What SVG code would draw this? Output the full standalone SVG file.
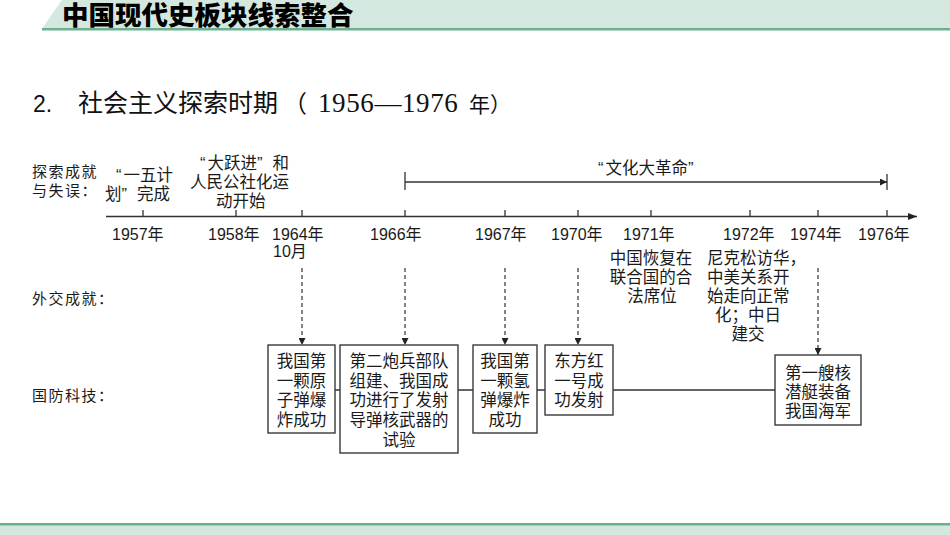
<svg xmlns="http://www.w3.org/2000/svg" width="950" height="535" viewBox="0 0 950 535">
<defs>
<style>
.cjk{font-family:"Liberation Sans","Noto Sans CJK SC",sans-serif;fill:#1a1a1a}
.yr{font-family:"Liberation Sans","Noto Sans CJK SC",sans-serif;font-size:16px;fill:#1a1a1a}
.lbl{font-size:15px;letter-spacing:1.5px}
.ev{font-size:16.5px}
.bx{font-size:16.5px;text-anchor:middle}
.box{fill:#fff;stroke:#3a3a3a;stroke-width:1.4}
.ln{stroke:#333;stroke-width:1.3;fill:none}
.dash{stroke:#333;stroke-width:1.2;stroke-dasharray:4 3;fill:none}
</style>
<marker id="ah" viewBox="0 0 10 10" refX="10" refY="5" markerWidth="7" markerHeight="7" markerUnits="userSpaceOnUse" orient="auto">
<path d="M0,0 L10,5 L0,10 Z" fill="#222"/>
</marker>
<marker id="ah2" viewBox="0 0 10 10" refX="10" refY="5" markerWidth="9" markerHeight="9" markerUnits="userSpaceOnUse" orient="auto">
<path d="M0,1 L10,5 L0,9 Z" fill="#222"/>
</marker>
</defs>
<rect width="950" height="535" fill="#fff"/>
<g id="header">
<polygon points="62,0 950,0 950,28.5 42,28.5" fill="#d5e8e0"/>
<rect x="42" y="28" width="908" height="2.5" fill="#6db08f"/>
<text x="62" y="25" class="cjk" font-size="26.5" font-weight="900" style="fill:#000">中国现代史板块线索整合</text>
</g>
<g id="subtitle">
<text x="33" y="112" font-family="Liberation Sans,sans-serif" font-size="23" fill="#111">2.</text>
<text x="78" y="112" class="cjk" font-size="25" style="fill:#111">社会主义探索时期</text>
<text x="283" y="112" class="cjk" font-size="24" style="fill:#111">（</text>
<text x="318" y="112" font-family="Liberation Serif,serif" font-size="27" letter-spacing="0.6" fill="#111">1956—1976</text>
<text x="469" y="112" class="cjk" font-size="21" style="fill:#111">年）</text>
</g>
<g id="row-labels">
<text x="32" y="177" class="cjk lbl">探索成就</text>
<text x="32" y="196" class="cjk lbl">与失误：</text>
<text x="32" y="304" class="cjk lbl">外交成就：</text>
<text x="32" y="401" class="cjk lbl">国防科技：</text>
</g>
<g id="connectors">
<line x1="106" y1="216.5" x2="917" y2="216.5" class="ln" stroke-width="1.8" marker-end="url(#ah2)"/>
<path class="ln" d="M143,210V216 M236,210V216 M302,210V216 M405,210V216 M505,210V216 M578,210V216 M651,210V216 M750,210V216 M818,210V216 M887,210V216"/>
<line x1="405" y1="182" x2="887" y2="182" class="ln" marker-end="url(#ah)"/>
<path class="ln" d="M405,172V190 M887,174V190"/>
<line x1="302" y1="268" x2="302" y2="345" class="dash" marker-end="url(#ah)"/>
<line x1="405" y1="268" x2="405" y2="345" class="dash" marker-end="url(#ah)"/>
<line x1="505" y1="268" x2="505" y2="345" class="dash" marker-end="url(#ah)"/>
<line x1="578" y1="268" x2="578" y2="345" class="dash" marker-end="url(#ah)"/>
<line x1="818" y1="268" x2="818" y2="355" class="dash" marker-end="url(#ah)"/>
<path class="ln" d="M335,390H340 M458,390H473 M537,390H545 M613,390H775"/>
</g>
<g id="years">
<text x="112" y="240" class="yr">1957年</text>
<text x="208" y="240" class="yr">1958年</text>
<text x="272" y="240" class="yr">1964年</text>
<text x="273" y="257" class="yr">10月</text>
<text x="370" y="240" class="yr">1966年</text>
<text x="475" y="240" class="yr">1967年</text>
<text x="551" y="240" class="yr">1970年</text>
<text x="623" y="240" class="yr">1971年</text>
<text x="723" y="240" class="yr">1972年</text>
<text x="790" y="240" class="yr">1974年</text>
<text x="858" y="240" class="yr">1976年</text>
</g>
<g id="ev-1957" class="cjk ev">
<text x="116" y="181">“<tspan dx="2">一五计</tspan></text>
<text x="105" y="200">划”<tspan dx="10">完成</tspan></text>
</g>
<g id="ev-1958" class="cjk ev">
<text x="200" y="169">“<tspan dx="2">大跃进</tspan>”<tspan dx="10">和</tspan></text>
<text x="190" y="188">人民公社化运</text>
<text x="216" y="207">动开始</text>
</g>
<g id="ev-wenge" class="cjk ev">
<text x="598" y="174">“<tspan dx="2">文化大革命</tspan>”</text>
</g>
<g id="ev-1971" class="cjk ev" text-anchor="middle">
<text x="651" y="264">中国恢复在</text>
<text x="651" y="283">联合国的合</text>
<text x="652" y="302">法席位</text>
</g>
<g id="ev-1972" class="cjk ev">
<text x="707" y="264">尼克松访华，</text>
<text x="707" y="283">中美关系开</text>
<text x="707" y="302">始走向正常</text>
<text x="748" y="321" text-anchor="middle">化；中日</text>
<text x="748" y="340" text-anchor="middle">建交</text>
</g>
<g id="box1">
<rect x="268" y="345" width="67" height="88" class="box"/>
<g class="cjk bx"><text x="301.5" y="367">我国第</text><text x="301.5" y="387">一颗原</text><text x="301.5" y="406">子弹爆</text><text x="301.5" y="426">炸成功</text></g>
</g>
<g id="box2">
<rect x="340" y="345" width="118" height="108" class="box"/>
<g class="cjk bx"><text x="399" y="367">第二炮兵部队</text><text x="399" y="387">组建、我国成</text><text x="399" y="406">功进行了发射</text><text x="399" y="426">导弹核武器的</text><text x="399" y="446">试验</text></g>
</g>
<g id="box3">
<rect x="473" y="345" width="64" height="88" class="box"/>
<g class="cjk bx"><text x="505" y="367">我国第</text><text x="505" y="387">一颗氢</text><text x="505" y="406">弹爆炸</text><text x="505" y="426">成功</text></g>
</g>
<g id="box4">
<rect x="545" y="345" width="68" height="70" class="box"/>
<g class="cjk bx"><text x="579" y="367">东方红</text><text x="579" y="387">一号成</text><text x="579" y="406">功发射</text></g>
</g>
<g id="box5">
<rect x="775" y="355" width="86" height="70" class="box"/>
<g class="cjk bx"><text x="818" y="379">第一艘核</text><text x="818" y="398">潜艇装备</text><text x="818" y="417">我国海军</text></g>
</g>
<g id="footer">
<rect x="0" y="525" width="950" height="10" fill="#d5e8e0"/>
<rect x="0" y="523" width="950" height="2.5" fill="#6db08f"/>
</g>
</svg>
